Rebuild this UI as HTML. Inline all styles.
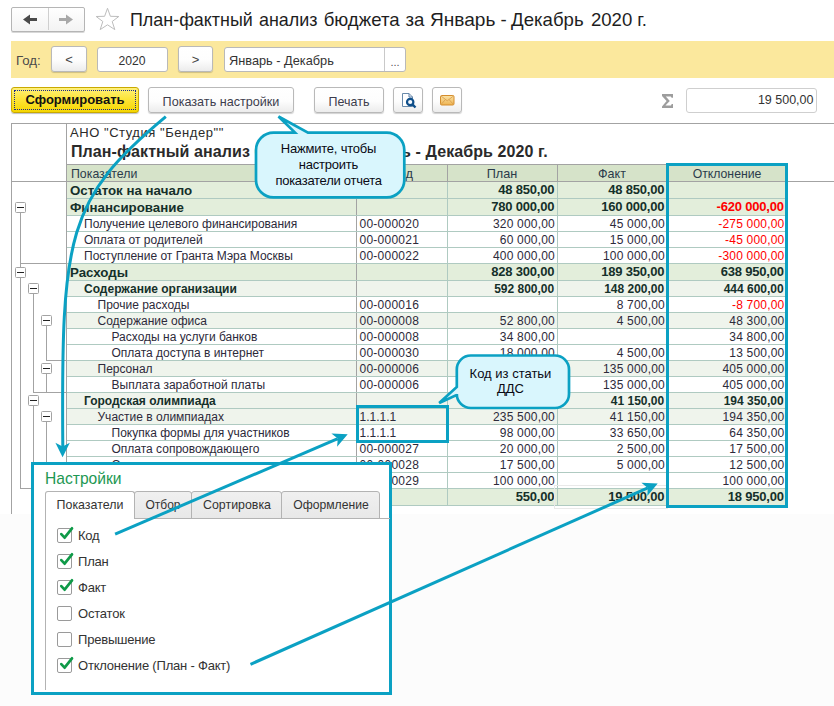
<!DOCTYPE html>
<html><head><meta charset="utf-8"><style>
html,body{margin:0;padding:0;}
body{width:834px;height:706px;overflow:hidden;position:relative;background:#fff;font-family:"Liberation Sans",sans-serif;}
.a{position:absolute;}
.t{position:absolute;white-space:nowrap;}
</style></head><body>
<div class="a" style="left:11px;top:7px;width:74px;height:25px;border:1px solid #b5b5b5;border-radius:2px;background:linear-gradient(#ffffff,#f3f3f3);box-sizing:border-box;box-shadow:0 1px 0 #d8d8d8;"></div><div class="a" style="left:48px;top:8px;width:1px;height:22px;background:#cfcfcf;"></div><svg class="a" style="left:0;top:0" width="120" height="40"><path d="M23,19.5 L30,14.5 L30,18 L37,18 L37,21 L30,21 L30,24.5 Z" fill="#4a4a4a"/><path d="M73,19.5 L66,14.5 L66,18 L59,18 L59,21 L66,21 L66,24.5 Z" fill="#a8a8a8"/><path d="M107.5,8.3 L110.4,16.3 L118.8,16.5 L112.2,21.5 L114.8,29.6 L107.5,24.8 L100.2,29.6 L102.8,21.5 L96.2,16.5 L104.6,16.3 Z" fill="none" stroke="#bdbdbd" stroke-width="1"/></svg><div class="t" style="top:8.86px;font-size:18.6px;line-height:21.39px;color:#1e1e1e;left:129.6px;transform:scaleX(0.963);transform-origin:0 0;">План-фактный</div><div class="t" style="top:8.86px;font-size:18.6px;line-height:21.39px;color:#1e1e1e;left:258.59999999999997px;transform:scaleX(0.963);transform-origin:0 0;">анализ</div><div class="t" style="top:8.86px;font-size:18.6px;line-height:21.39px;color:#1e1e1e;left:323.7px;">бюджета</div><div class="t" style="top:8.86px;font-size:18.6px;line-height:21.39px;color:#1e1e1e;left:405.5px;">за</div><div class="t" style="top:8.86px;font-size:18.6px;line-height:21.39px;color:#1e1e1e;left:430.0px;transform:scaleX(1.026);transform-origin:0 0;">Январь</div><div class="t" style="top:8.86px;font-size:18.6px;line-height:21.39px;color:#1e1e1e;left:500.5px;">-</div><div class="t" style="top:8.86px;font-size:18.6px;line-height:21.39px;color:#1e1e1e;left:511.09999999999997px;">Декабрь</div><div class="t" style="top:8.86px;font-size:18.6px;line-height:21.39px;color:#1e1e1e;left:590.9000000000001px;">2020</div><div class="t" style="top:8.86px;font-size:18.6px;line-height:21.39px;color:#1e1e1e;left:637.3000000000001px;">г.</div><div class="a" style="left:11px;top:41px;width:823px;height:37px;background:#fbe89d;"></div><div class="t" style="top:52.56px;font-size:13.5px;line-height:15.52px;color:#4a4a4a;left:16px;transform:scaleX(0.98);transform-origin:0 0;">Год:</div><div class="a" style="left:51px;top:46px;width:36px;height:26px;border:1px solid #b9b9b9;border-radius:3px;background:linear-gradient(#ffffff 0%,#fdfdfd 55%,#ececec 100%);box-sizing:border-box;box-shadow:0 1px 1px rgba(0,0,0,0.18);"></div><div class="t" style="top:53.02px;font-size:13px;line-height:14.95px;color:#444;left:-81px;width:300px;text-align:center;">&lt;</div><div class="a" style="left:97px;top:47px;width:71px;height:25px;border:1px solid #b9b9b9;border-radius:3px;background:#fff;box-sizing:border-box;"></div><div class="t" style="top:52.56px;font-size:13.5px;line-height:15.52px;color:#333;left:-17.80000000000001px;width:300px;text-align:center;transform:scaleX(0.9);transform-origin:50% 0;">2020</div><div class="a" style="left:178px;top:46px;width:35px;height:26px;border:1px solid #b9b9b9;border-radius:3px;background:linear-gradient(#ffffff 0%,#fdfdfd 55%,#ececec 100%);box-sizing:border-box;box-shadow:0 1px 1px rgba(0,0,0,0.18);"></div><div class="t" style="top:53.02px;font-size:13px;line-height:14.95px;color:#444;left:45.5px;width:300px;text-align:center;">&gt;</div><div class="a" style="left:224px;top:47px;width:182px;height:25px;border:1px solid #b9b9b9;border-radius:3px;background:#fff;box-sizing:border-box;"></div><div class="a" style="left:384px;top:48px;width:1px;height:23px;background:#c9c9c9;"></div><div class="t" style="top:52.56px;font-size:13.5px;line-height:15.52px;color:#333;left:228.5px;transform:scaleX(0.945);transform-origin:0 0;">Январь - Декабрь</div><div class="t" style="top:55.86px;font-size:11px;line-height:12.65px;color:#555;left:245px;width:300px;text-align:center;">...</div><div class="a" style="left:11px;top:87px;width:128px;height:26px;border:1px solid #c9a900;border-radius:3px;background:linear-gradient(#fff07a 0%,#fde53a 45%,#f5d600 100%);box-sizing:border-box;box-shadow:0 1px 1px rgba(0,0,0,0.25);"></div><div class="a" style="left:14px;top:90px;width:122px;height:20px;border:1px dotted #1b2a8a;box-sizing:border-box;"></div><div class="t" style="top:93.22px;font-size:13px;line-height:14.95px;color:#111;font-weight:bold;left:-75px;width:300px;text-align:center;">Сформировать</div><div class="a" style="left:148px;top:87px;width:146px;height:26px;border:1px solid #b9b9b9;border-radius:3px;background:linear-gradient(#ffffff 0%,#fdfdfd 55%,#ececec 100%);box-sizing:border-box;box-shadow:0 1px 1px rgba(0,0,0,0.18);"></div><div class="t" style="top:93.56px;font-size:13.5px;line-height:15.52px;color:#3d3d4d;left:70.80000000000001px;width:300px;text-align:center;transform:scaleX(0.934);transform-origin:50% 0;">Показать настройки</div><div class="a" style="left:314px;top:87px;width:70px;height:26px;border:1px solid #b9b9b9;border-radius:3px;background:linear-gradient(#ffffff 0%,#fdfdfd 55%,#ececec 100%);box-sizing:border-box;box-shadow:0 1px 1px rgba(0,0,0,0.18);"></div><div class="t" style="top:93.56px;font-size:13.5px;line-height:15.52px;color:#3d3d4d;left:199px;width:300px;text-align:center;transform:scaleX(0.923);transform-origin:50% 0;">Печать</div><div class="a" style="left:393px;top:87px;width:30px;height:26px;border:1px solid #b9b9b9;border-radius:3px;background:linear-gradient(#ffffff 0%,#fdfdfd 55%,#ececec 100%);box-sizing:border-box;box-shadow:0 1px 1px rgba(0,0,0,0.18);"></div><div class="a" style="left:432px;top:87px;width:30px;height:26px;border:1px solid #b9b9b9;border-radius:3px;background:linear-gradient(#ffffff 0%,#fdfdfd 55%,#ececec 100%);box-sizing:border-box;box-shadow:0 1px 1px rgba(0,0,0,0.18);"></div><svg class="a" style="left:393px;top:87px" width="29" height="26"><path d="M9.5,6.5 L16,6.5 L19.5,10 L19.5,19.5 L9.5,19.5 Z" fill="#fff" stroke="#6a8aaa" stroke-width="1"/><path d="M16,6.5 L16,10 L19.5,10" fill="none" stroke="#5a7fa8" stroke-width="1"/><circle cx="17.2" cy="15" r="3.2" fill="#f4f9ff" stroke="#0f4f8a" stroke-width="2.2"/><path d="M19.4,17.4 L22.5,20.5" stroke="#0f4f8a" stroke-width="2.4"/></svg><svg class="a" style="left:432px;top:87px" width="30" height="26"><defs><linearGradient id="mg" x1="0" y1="0" x2="0" y2="1"><stop offset="0" stop-color="#fbe3a6"/><stop offset="1" stop-color="#eeb453"/></linearGradient></defs><rect x="8.5" y="8.5" width="13.5" height="9.5" rx="1.2" fill="url(#mg)" stroke="#d48c2c" stroke-width="1"/><path d="M9,9 L15.25,13.8 L21.5,9 M9,17.5 L13.5,12.5 M21.5,17.5 L17,12.5" fill="none" stroke="#d9a050" stroke-width="0.9"/></svg><svg class="a" style="left:0;top:0" width="834" height="130"><path d="M662,94 L673,94 L673,97.8 L671.6,97.8 L670.8,96.5 L665.8,96.5 L669.8,101 L665.4,105.5 L671,105.5 L671.7,104.1 L673,104.1 L673,108 L662,108 L662,106.5 L666.6,101 L662,96 Z" fill="#9d9d9d"/></svg><div class="a" style="left:686px;top:88px;width:131px;height:25px;border:1px solid #b9b9b9;border-radius:3px;background:#fff;box-sizing:border-box;border-color:#cfcfcf;"></div><div class="t" style="top:93.48px;font-size:12.5px;line-height:14.37px;color:#333;right:20.5px;text-align:right;">19 500,00</div><div class="a" style="left:0px;top:514px;width:834px;height:192px;background:#fcfcfc;"></div><div class="a" style="left:11px;top:123px;width:823px;height:1px;background:#a3a3a3;"></div><div class="a" style="left:11px;top:123px;width:1px;height:391px;background:#a3a3a3;"></div><div class="a" style="left:66px;top:123px;width:1px;height:383px;background:#a3a3a3;"></div><div class="t" style="top:126.02px;font-size:13px;line-height:14.95px;color:#2a2a2a;letter-spacing:0.55px;left:70px;">АНО "Студия "Бендер""</div><div class="t" style="top:142.56px;font-size:16px;line-height:18.4px;color:#2a2a2a;font-weight:bold;letter-spacing:0.09px;left:71px;">План-фактный анализ бюджета за Январь - Декабрь 2020 г.</div><div class="a" style="left:67px;top:165px;width:718px;height:16px;background:#d6e3c9;"></div><div class="a" style="left:66px;top:164px;width:719px;height:1px;background:#a3a3a3;"></div><div class="a" style="left:11px;top:181px;width:823px;height:1px;background:#a3a3a3;"></div><div class="a" style="left:356px;top:164px;width:1px;height:17px;background:#a3a3a3;"></div><div class="a" style="left:447px;top:164px;width:1px;height:17px;background:#a3a3a3;"></div><div class="a" style="left:557px;top:164px;width:1px;height:17px;background:#a3a3a3;"></div><div class="a" style="left:667px;top:164px;width:1px;height:17px;background:#a3a3a3;"></div><div class="t" style="top:166.36px;font-size:13.5px;line-height:15.52px;color:#2b3b4b;left:70.5px;transform:scaleX(0.913);transform-origin:0 0;">Показатели</div><div class="t" style="top:166.36px;font-size:13.5px;line-height:15.52px;color:#2b3b4b;left:251.5px;width:300px;text-align:center;transform:scaleX(0.95);transform-origin:50% 0;">Код</div><div class="t" style="top:166.36px;font-size:13.5px;line-height:15.52px;color:#2b3b4b;left:352px;width:300px;text-align:center;transform:scaleX(0.94);transform-origin:50% 0;">План</div><div class="t" style="top:166.36px;font-size:13.5px;line-height:15.52px;color:#2b3b4b;left:462px;width:300px;text-align:center;transform:scaleX(0.93);transform-origin:50% 0;">Факт</div><div class="t" style="top:166.36px;font-size:13.5px;line-height:15.52px;color:#2b3b4b;left:577px;width:300px;text-align:center;transform:scaleX(0.907);transform-origin:50% 0;">Отклонение</div><div class="a" style="left:67px;top:182px;width:718px;height:16px;background:#e3eedb;"></div><div class="a" style="left:67px;top:198px;width:718px;height:1px;background:#afcac1;"></div><div class="a" style="left:356px;top:182px;width:1px;height:16px;background:#a3a3a3;"></div><div class="a" style="left:447px;top:182px;width:1px;height:16px;background:#afcac1;"></div><div class="a" style="left:557px;top:182px;width:1px;height:16px;background:#afcac1;"></div><div class="a" style="left:667px;top:182px;width:1px;height:16px;background:#afcac1;"></div><div class="t" style="top:182.85px;font-size:13.3px;line-height:15.29px;color:#15302a;font-weight:bold;left:70px;">Остаток на начало</div><div class="t" style="top:183.12px;font-size:13px;line-height:14.95px;color:#15302a;font-weight:bold;letter-spacing:-0.2px;right:279.79999999999995px;text-align:right;">48 850,00</div><div class="t" style="top:183.12px;font-size:13px;line-height:14.95px;color:#15302a;font-weight:bold;letter-spacing:-0.2px;right:169.79999999999995px;text-align:right;">48 850,00</div><div class="a" style="left:67px;top:199px;width:718px;height:16px;background:#e3eedb;"></div><div class="a" style="left:67px;top:215px;width:718px;height:1px;background:#afcac1;"></div><div class="a" style="left:356px;top:199px;width:1px;height:16px;background:#a3a3a3;"></div><div class="a" style="left:447px;top:199px;width:1px;height:16px;background:#afcac1;"></div><div class="a" style="left:557px;top:199px;width:1px;height:16px;background:#afcac1;"></div><div class="a" style="left:667px;top:199px;width:1px;height:16px;background:#afcac1;"></div><div class="t" style="top:199.85px;font-size:13.3px;line-height:15.29px;color:#15302a;font-weight:bold;left:70px;">Финансирование</div><div class="t" style="top:200.12px;font-size:13px;line-height:14.95px;color:#15302a;font-weight:bold;letter-spacing:-0.2px;right:279.79999999999995px;text-align:right;">780 000,00</div><div class="t" style="top:200.12px;font-size:13px;line-height:14.95px;color:#15302a;font-weight:bold;letter-spacing:-0.2px;right:169.79999999999995px;text-align:right;">160 000,00</div><div class="t" style="top:200.12px;font-size:13px;line-height:14.95px;color:#ff0000;font-weight:bold;letter-spacing:-0.2px;right:50.299999999999955px;text-align:right;">-620 000,00</div><div class="a" style="left:67px;top:216px;width:718px;height:15px;background:#ffffff;"></div><div class="a" style="left:67px;top:231px;width:718px;height:1px;background:#afcac1;"></div><div class="a" style="left:356px;top:216px;width:1px;height:15px;background:#a3a3a3;"></div><div class="a" style="left:447px;top:216px;width:1px;height:15px;background:#afcac1;"></div><div class="a" style="left:557px;top:216px;width:1px;height:15px;background:#afcac1;"></div><div class="a" style="left:667px;top:216px;width:1px;height:15px;background:#afcac1;"></div><div class="t" style="top:218.24px;font-size:12px;line-height:13.8px;color:#2d2a3a;left:84px;">Получение целевого финансирования</div><div class="t" style="top:218.24px;font-size:12px;line-height:13.8px;color:#2d2a3a;letter-spacing:0.25px;left:359.5px;">00-000020</div><div class="t" style="top:218.24px;font-size:12px;line-height:13.8px;color:#2d2a3a;letter-spacing:0.2px;right:279.0px;text-align:right;">320 000,00</div><div class="t" style="top:218.24px;font-size:12px;line-height:13.8px;color:#2d2a3a;letter-spacing:0.2px;right:169.0px;text-align:right;">45 000,00</div><div class="t" style="top:218.24px;font-size:12px;line-height:13.8px;color:#ff0000;letter-spacing:0.2px;right:49.5px;text-align:right;">-275 000,00</div><div class="a" style="left:67px;top:232px;width:718px;height:15px;background:#ffffff;"></div><div class="a" style="left:67px;top:247px;width:718px;height:1px;background:#afcac1;"></div><div class="a" style="left:356px;top:232px;width:1px;height:15px;background:#a3a3a3;"></div><div class="a" style="left:447px;top:232px;width:1px;height:15px;background:#afcac1;"></div><div class="a" style="left:557px;top:232px;width:1px;height:15px;background:#afcac1;"></div><div class="a" style="left:667px;top:232px;width:1px;height:15px;background:#afcac1;"></div><div class="t" style="top:234.24px;font-size:12px;line-height:13.8px;color:#2d2a3a;left:84px;">Оплата от родителей</div><div class="t" style="top:234.24px;font-size:12px;line-height:13.8px;color:#2d2a3a;letter-spacing:0.25px;left:359.5px;">00-000021</div><div class="t" style="top:234.24px;font-size:12px;line-height:13.8px;color:#2d2a3a;letter-spacing:0.2px;right:279.0px;text-align:right;">60 000,00</div><div class="t" style="top:234.24px;font-size:12px;line-height:13.8px;color:#2d2a3a;letter-spacing:0.2px;right:169.0px;text-align:right;">15 000,00</div><div class="t" style="top:234.24px;font-size:12px;line-height:13.8px;color:#ff0000;letter-spacing:0.2px;right:49.5px;text-align:right;">-45 000,00</div><div class="a" style="left:67px;top:248px;width:718px;height:15px;background:#ffffff;"></div><div class="a" style="left:67px;top:263px;width:718px;height:1px;background:#afcac1;"></div><div class="a" style="left:356px;top:248px;width:1px;height:15px;background:#a3a3a3;"></div><div class="a" style="left:447px;top:248px;width:1px;height:15px;background:#afcac1;"></div><div class="a" style="left:557px;top:248px;width:1px;height:15px;background:#afcac1;"></div><div class="a" style="left:667px;top:248px;width:1px;height:15px;background:#afcac1;"></div><div class="t" style="top:250.24px;font-size:12px;line-height:13.8px;color:#2d2a3a;left:84px;">Поступление от Гранта Мэра Москвы</div><div class="t" style="top:250.24px;font-size:12px;line-height:13.8px;color:#2d2a3a;letter-spacing:0.25px;left:359.5px;">00-000022</div><div class="t" style="top:250.24px;font-size:12px;line-height:13.8px;color:#2d2a3a;letter-spacing:0.2px;right:279.0px;text-align:right;">400 000,00</div><div class="t" style="top:250.24px;font-size:12px;line-height:13.8px;color:#2d2a3a;letter-spacing:0.2px;right:169.0px;text-align:right;">100 000,00</div><div class="t" style="top:250.24px;font-size:12px;line-height:13.8px;color:#ff0000;letter-spacing:0.2px;right:49.5px;text-align:right;">-300 000,00</div><div class="a" style="left:67px;top:264px;width:718px;height:16px;background:#e3eedb;"></div><div class="a" style="left:67px;top:280px;width:718px;height:1px;background:#afcac1;"></div><div class="a" style="left:356px;top:264px;width:1px;height:16px;background:#a3a3a3;"></div><div class="a" style="left:447px;top:264px;width:1px;height:16px;background:#afcac1;"></div><div class="a" style="left:557px;top:264px;width:1px;height:16px;background:#afcac1;"></div><div class="a" style="left:667px;top:264px;width:1px;height:16px;background:#afcac1;"></div><div class="t" style="top:264.85px;font-size:13.3px;line-height:15.29px;color:#15302a;font-weight:bold;left:70px;">Расходы</div><div class="t" style="top:265.12px;font-size:13px;line-height:14.95px;color:#15302a;font-weight:bold;letter-spacing:-0.2px;right:279.79999999999995px;text-align:right;">828 300,00</div><div class="t" style="top:265.12px;font-size:13px;line-height:14.95px;color:#15302a;font-weight:bold;letter-spacing:-0.2px;right:169.79999999999995px;text-align:right;">189 350,00</div><div class="t" style="top:265.12px;font-size:13px;line-height:14.95px;color:#15302a;font-weight:bold;letter-spacing:-0.2px;right:50.299999999999955px;text-align:right;">638 950,00</div><div class="a" style="left:67px;top:281px;width:718px;height:15px;background:#eff4ec;"></div><div class="a" style="left:67px;top:296px;width:718px;height:1px;background:#afcac1;"></div><div class="a" style="left:356px;top:281px;width:1px;height:15px;background:#a3a3a3;"></div><div class="a" style="left:447px;top:281px;width:1px;height:15px;background:#afcac1;"></div><div class="a" style="left:557px;top:281px;width:1px;height:15px;background:#afcac1;"></div><div class="a" style="left:667px;top:281px;width:1px;height:15px;background:#afcac1;"></div><div class="t" style="top:282.84px;font-size:12px;line-height:13.8px;color:#15302a;font-weight:bold;left:84px;">Содержание организации</div><div class="t" style="top:282.84px;font-size:12px;line-height:13.8px;color:#15302a;font-weight:bold;right:279.79999999999995px;text-align:right;">592 800,00</div><div class="t" style="top:282.84px;font-size:12px;line-height:13.8px;color:#15302a;font-weight:bold;right:169.79999999999995px;text-align:right;">148 200,00</div><div class="t" style="top:282.84px;font-size:12px;line-height:13.8px;color:#15302a;font-weight:bold;right:50.299999999999955px;text-align:right;">444 600,00</div><div class="a" style="left:67px;top:297px;width:718px;height:15px;background:#ffffff;"></div><div class="a" style="left:67px;top:312px;width:718px;height:1px;background:#afcac1;"></div><div class="a" style="left:356px;top:297px;width:1px;height:15px;background:#a3a3a3;"></div><div class="a" style="left:447px;top:297px;width:1px;height:15px;background:#afcac1;"></div><div class="a" style="left:557px;top:297px;width:1px;height:15px;background:#afcac1;"></div><div class="a" style="left:667px;top:297px;width:1px;height:15px;background:#afcac1;"></div><div class="t" style="top:299.24px;font-size:12px;line-height:13.8px;color:#2d2a3a;left:97.5px;">Прочие расходы</div><div class="t" style="top:299.24px;font-size:12px;line-height:13.8px;color:#2d2a3a;letter-spacing:0.25px;left:359.5px;">00-000016</div><div class="t" style="top:299.24px;font-size:12px;line-height:13.8px;color:#2d2a3a;letter-spacing:0.2px;right:169.0px;text-align:right;">8 700,00</div><div class="t" style="top:299.24px;font-size:12px;line-height:13.8px;color:#ff0000;letter-spacing:0.2px;right:49.5px;text-align:right;">-8 700,00</div><div class="a" style="left:67px;top:313px;width:718px;height:15px;background:#eff4ec;"></div><div class="a" style="left:67px;top:328px;width:718px;height:1px;background:#afcac1;"></div><div class="a" style="left:356px;top:313px;width:1px;height:15px;background:#a3a3a3;"></div><div class="a" style="left:447px;top:313px;width:1px;height:15px;background:#afcac1;"></div><div class="a" style="left:557px;top:313px;width:1px;height:15px;background:#afcac1;"></div><div class="a" style="left:667px;top:313px;width:1px;height:15px;background:#afcac1;"></div><div class="t" style="top:315.24px;font-size:12px;line-height:13.8px;color:#2d2a3a;left:97.5px;">Содержание офиса</div><div class="t" style="top:315.24px;font-size:12px;line-height:13.8px;color:#2d2a3a;letter-spacing:0.25px;left:359.5px;">00-000008</div><div class="t" style="top:315.24px;font-size:12px;line-height:13.8px;color:#2d2a3a;letter-spacing:0.2px;right:279.0px;text-align:right;">52 800,00</div><div class="t" style="top:315.24px;font-size:12px;line-height:13.8px;color:#2d2a3a;letter-spacing:0.2px;right:169.0px;text-align:right;">4 500,00</div><div class="t" style="top:315.24px;font-size:12px;line-height:13.8px;color:#2d2a3a;letter-spacing:0.2px;right:49.5px;text-align:right;">48 300,00</div><div class="a" style="left:67px;top:329px;width:718px;height:15px;background:#ffffff;"></div><div class="a" style="left:67px;top:344px;width:718px;height:1px;background:#afcac1;"></div><div class="a" style="left:356px;top:329px;width:1px;height:15px;background:#a3a3a3;"></div><div class="a" style="left:447px;top:329px;width:1px;height:15px;background:#afcac1;"></div><div class="a" style="left:557px;top:329px;width:1px;height:15px;background:#afcac1;"></div><div class="a" style="left:667px;top:329px;width:1px;height:15px;background:#afcac1;"></div><div class="t" style="top:331.24px;font-size:12px;line-height:13.8px;color:#2d2a3a;left:111.5px;">Расходы на услуги банков</div><div class="t" style="top:331.24px;font-size:12px;line-height:13.8px;color:#2d2a3a;letter-spacing:0.25px;left:359.5px;">00-000008</div><div class="t" style="top:331.24px;font-size:12px;line-height:13.8px;color:#2d2a3a;letter-spacing:0.2px;right:279.0px;text-align:right;">34 800,00</div><div class="t" style="top:331.24px;font-size:12px;line-height:13.8px;color:#2d2a3a;letter-spacing:0.2px;right:49.5px;text-align:right;">34 800,00</div><div class="a" style="left:67px;top:345px;width:718px;height:15px;background:#ffffff;"></div><div class="a" style="left:67px;top:360px;width:718px;height:1px;background:#afcac1;"></div><div class="a" style="left:356px;top:345px;width:1px;height:15px;background:#a3a3a3;"></div><div class="a" style="left:447px;top:345px;width:1px;height:15px;background:#afcac1;"></div><div class="a" style="left:557px;top:345px;width:1px;height:15px;background:#afcac1;"></div><div class="a" style="left:667px;top:345px;width:1px;height:15px;background:#afcac1;"></div><div class="t" style="top:347.24px;font-size:12px;line-height:13.8px;color:#2d2a3a;left:111.5px;">Оплата доступа в интернет</div><div class="t" style="top:347.24px;font-size:12px;line-height:13.8px;color:#2d2a3a;letter-spacing:0.25px;left:359.5px;">00-000030</div><div class="t" style="top:347.24px;font-size:12px;line-height:13.8px;color:#2d2a3a;letter-spacing:0.2px;right:279.0px;text-align:right;">18 000,00</div><div class="t" style="top:347.24px;font-size:12px;line-height:13.8px;color:#2d2a3a;letter-spacing:0.2px;right:169.0px;text-align:right;">4 500,00</div><div class="t" style="top:347.24px;font-size:12px;line-height:13.8px;color:#2d2a3a;letter-spacing:0.2px;right:49.5px;text-align:right;">13 500,00</div><div class="a" style="left:67px;top:361px;width:718px;height:15px;background:#eff4ec;"></div><div class="a" style="left:67px;top:376px;width:718px;height:1px;background:#afcac1;"></div><div class="a" style="left:356px;top:361px;width:1px;height:15px;background:#a3a3a3;"></div><div class="a" style="left:447px;top:361px;width:1px;height:15px;background:#afcac1;"></div><div class="a" style="left:557px;top:361px;width:1px;height:15px;background:#afcac1;"></div><div class="a" style="left:667px;top:361px;width:1px;height:15px;background:#afcac1;"></div><div class="t" style="top:363.24px;font-size:12px;line-height:13.8px;color:#2d2a3a;left:97.5px;">Персонал</div><div class="t" style="top:363.24px;font-size:12px;line-height:13.8px;color:#2d2a3a;letter-spacing:0.25px;left:359.5px;">00-000006</div><div class="t" style="top:363.24px;font-size:12px;line-height:13.8px;color:#2d2a3a;letter-spacing:0.2px;right:279.0px;text-align:right;">540 000,00</div><div class="t" style="top:363.24px;font-size:12px;line-height:13.8px;color:#2d2a3a;letter-spacing:0.2px;right:169.0px;text-align:right;">135 000,00</div><div class="t" style="top:363.24px;font-size:12px;line-height:13.8px;color:#2d2a3a;letter-spacing:0.2px;right:49.5px;text-align:right;">405 000,00</div><div class="a" style="left:67px;top:377px;width:718px;height:15px;background:#ffffff;"></div><div class="a" style="left:67px;top:392px;width:718px;height:1px;background:#afcac1;"></div><div class="a" style="left:356px;top:377px;width:1px;height:15px;background:#a3a3a3;"></div><div class="a" style="left:447px;top:377px;width:1px;height:15px;background:#afcac1;"></div><div class="a" style="left:557px;top:377px;width:1px;height:15px;background:#afcac1;"></div><div class="a" style="left:667px;top:377px;width:1px;height:15px;background:#afcac1;"></div><div class="t" style="top:379.24px;font-size:12px;line-height:13.8px;color:#2d2a3a;left:111.5px;">Выплата заработной платы</div><div class="t" style="top:379.24px;font-size:12px;line-height:13.8px;color:#2d2a3a;letter-spacing:0.25px;left:359.5px;">00-000006</div><div class="t" style="top:379.24px;font-size:12px;line-height:13.8px;color:#2d2a3a;letter-spacing:0.2px;right:279.0px;text-align:right;">540 000,00</div><div class="t" style="top:379.24px;font-size:12px;line-height:13.8px;color:#2d2a3a;letter-spacing:0.2px;right:169.0px;text-align:right;">135 000,00</div><div class="t" style="top:379.24px;font-size:12px;line-height:13.8px;color:#2d2a3a;letter-spacing:0.2px;right:49.5px;text-align:right;">405 000,00</div><div class="a" style="left:67px;top:393px;width:718px;height:15px;background:#eff4ec;"></div><div class="a" style="left:67px;top:408px;width:718px;height:1px;background:#afcac1;"></div><div class="a" style="left:356px;top:393px;width:1px;height:15px;background:#a3a3a3;"></div><div class="a" style="left:447px;top:393px;width:1px;height:15px;background:#afcac1;"></div><div class="a" style="left:557px;top:393px;width:1px;height:15px;background:#afcac1;"></div><div class="a" style="left:667px;top:393px;width:1px;height:15px;background:#afcac1;"></div><div class="t" style="top:394.84px;font-size:12px;line-height:13.8px;color:#15302a;font-weight:bold;left:84px;">Городская олимпиада</div><div class="t" style="top:394.84px;font-size:12px;line-height:13.8px;color:#15302a;font-weight:bold;right:279.79999999999995px;text-align:right;">235 500,00</div><div class="t" style="top:394.84px;font-size:12px;line-height:13.8px;color:#15302a;font-weight:bold;right:169.79999999999995px;text-align:right;">41 150,00</div><div class="t" style="top:394.84px;font-size:12px;line-height:13.8px;color:#15302a;font-weight:bold;right:50.299999999999955px;text-align:right;">194 350,00</div><div class="a" style="left:67px;top:409px;width:718px;height:15px;background:#eff4ec;"></div><div class="a" style="left:67px;top:424px;width:718px;height:1px;background:#afcac1;"></div><div class="a" style="left:356px;top:409px;width:1px;height:15px;background:#a3a3a3;"></div><div class="a" style="left:447px;top:409px;width:1px;height:15px;background:#afcac1;"></div><div class="a" style="left:557px;top:409px;width:1px;height:15px;background:#afcac1;"></div><div class="a" style="left:667px;top:409px;width:1px;height:15px;background:#afcac1;"></div><div class="t" style="top:411.24px;font-size:12px;line-height:13.8px;color:#2d2a3a;left:97.5px;">Участие в олимпиадах</div><div class="t" style="top:411.24px;font-size:12px;line-height:13.8px;color:#2d2a3a;letter-spacing:0px;left:359.5px;">1.1.1.1</div><div class="t" style="top:411.24px;font-size:12px;line-height:13.8px;color:#2d2a3a;letter-spacing:0.2px;right:279.0px;text-align:right;">235 500,00</div><div class="t" style="top:411.24px;font-size:12px;line-height:13.8px;color:#2d2a3a;letter-spacing:0.2px;right:169.0px;text-align:right;">41 150,00</div><div class="t" style="top:411.24px;font-size:12px;line-height:13.8px;color:#2d2a3a;letter-spacing:0.2px;right:49.5px;text-align:right;">194 350,00</div><div class="a" style="left:67px;top:425px;width:718px;height:15px;background:#ffffff;"></div><div class="a" style="left:67px;top:440px;width:718px;height:1px;background:#afcac1;"></div><div class="a" style="left:356px;top:425px;width:1px;height:15px;background:#a3a3a3;"></div><div class="a" style="left:447px;top:425px;width:1px;height:15px;background:#afcac1;"></div><div class="a" style="left:557px;top:425px;width:1px;height:15px;background:#afcac1;"></div><div class="a" style="left:667px;top:425px;width:1px;height:15px;background:#afcac1;"></div><div class="t" style="top:427.24px;font-size:12px;line-height:13.8px;color:#2d2a3a;left:111.5px;">Покупка формы для участников</div><div class="t" style="top:427.24px;font-size:12px;line-height:13.8px;color:#2d2a3a;letter-spacing:0px;left:359.5px;">1.1.1.1</div><div class="t" style="top:427.24px;font-size:12px;line-height:13.8px;color:#2d2a3a;letter-spacing:0.2px;right:279.0px;text-align:right;">98 000,00</div><div class="t" style="top:427.24px;font-size:12px;line-height:13.8px;color:#2d2a3a;letter-spacing:0.2px;right:169.0px;text-align:right;">33 650,00</div><div class="t" style="top:427.24px;font-size:12px;line-height:13.8px;color:#2d2a3a;letter-spacing:0.2px;right:49.5px;text-align:right;">64 350,00</div><div class="a" style="left:67px;top:441px;width:718px;height:15px;background:#ffffff;"></div><div class="a" style="left:67px;top:456px;width:718px;height:1px;background:#afcac1;"></div><div class="a" style="left:356px;top:441px;width:1px;height:15px;background:#a3a3a3;"></div><div class="a" style="left:447px;top:441px;width:1px;height:15px;background:#afcac1;"></div><div class="a" style="left:557px;top:441px;width:1px;height:15px;background:#afcac1;"></div><div class="a" style="left:667px;top:441px;width:1px;height:15px;background:#afcac1;"></div><div class="t" style="top:443.24px;font-size:12px;line-height:13.8px;color:#2d2a3a;left:111.5px;">Оплата сопровождающего</div><div class="t" style="top:443.24px;font-size:12px;line-height:13.8px;color:#2d2a3a;letter-spacing:0.25px;left:359.5px;">00-000027</div><div class="t" style="top:443.24px;font-size:12px;line-height:13.8px;color:#2d2a3a;letter-spacing:0.2px;right:279.0px;text-align:right;">20 000,00</div><div class="t" style="top:443.24px;font-size:12px;line-height:13.8px;color:#2d2a3a;letter-spacing:0.2px;right:169.0px;text-align:right;">2 500,00</div><div class="t" style="top:443.24px;font-size:12px;line-height:13.8px;color:#2d2a3a;letter-spacing:0.2px;right:49.5px;text-align:right;">17 500,00</div><div class="a" style="left:67px;top:457px;width:718px;height:15px;background:#ffffff;"></div><div class="a" style="left:67px;top:472px;width:718px;height:1px;background:#afcac1;"></div><div class="a" style="left:356px;top:457px;width:1px;height:15px;background:#a3a3a3;"></div><div class="a" style="left:447px;top:457px;width:1px;height:15px;background:#afcac1;"></div><div class="a" style="left:557px;top:457px;width:1px;height:15px;background:#afcac1;"></div><div class="a" style="left:667px;top:457px;width:1px;height:15px;background:#afcac1;"></div><div class="t" style="top:459.24px;font-size:12px;line-height:13.8px;color:#2d2a3a;left:111.5px;">Оплата участия</div><div class="t" style="top:459.24px;font-size:12px;line-height:13.8px;color:#2d2a3a;letter-spacing:0.25px;left:359.5px;">00-000028</div><div class="t" style="top:459.24px;font-size:12px;line-height:13.8px;color:#2d2a3a;letter-spacing:0.2px;right:279.0px;text-align:right;">17 500,00</div><div class="t" style="top:459.24px;font-size:12px;line-height:13.8px;color:#2d2a3a;letter-spacing:0.2px;right:169.0px;text-align:right;">5 000,00</div><div class="t" style="top:459.24px;font-size:12px;line-height:13.8px;color:#2d2a3a;letter-spacing:0.2px;right:49.5px;text-align:right;">12 500,00</div><div class="a" style="left:67px;top:473px;width:718px;height:15px;background:#ffffff;"></div><div class="a" style="left:67px;top:488px;width:718px;height:1px;background:#afcac1;"></div><div class="a" style="left:356px;top:473px;width:1px;height:15px;background:#a3a3a3;"></div><div class="a" style="left:447px;top:473px;width:1px;height:15px;background:#afcac1;"></div><div class="a" style="left:557px;top:473px;width:1px;height:15px;background:#afcac1;"></div><div class="a" style="left:667px;top:473px;width:1px;height:15px;background:#afcac1;"></div><div class="t" style="top:475.24px;font-size:12px;line-height:13.8px;color:#2d2a3a;left:111.5px;">Прочие</div><div class="t" style="top:475.24px;font-size:12px;line-height:13.8px;color:#2d2a3a;letter-spacing:0.25px;left:359.5px;">00-000029</div><div class="t" style="top:475.24px;font-size:12px;line-height:13.8px;color:#2d2a3a;letter-spacing:0.2px;right:279.0px;text-align:right;">100 000,00</div><div class="t" style="top:475.24px;font-size:12px;line-height:13.8px;color:#2d2a3a;letter-spacing:0.2px;right:49.5px;text-align:right;">100 000,00</div><div class="a" style="left:67px;top:489px;width:718px;height:16px;background:#e3eedb;"></div><div class="a" style="left:67px;top:505px;width:718px;height:1px;background:#afcac1;"></div><div class="a" style="left:356px;top:489px;width:1px;height:16px;background:#a3a3a3;"></div><div class="a" style="left:447px;top:489px;width:1px;height:16px;background:#afcac1;"></div><div class="a" style="left:557px;top:489px;width:1px;height:16px;background:#afcac1;"></div><div class="a" style="left:667px;top:489px;width:1px;height:16px;background:#afcac1;"></div><div class="t" style="top:490.12px;font-size:13px;line-height:14.95px;color:#15302a;font-weight:bold;letter-spacing:-0.2px;right:279.79999999999995px;text-align:right;">550,00</div><div class="t" style="top:490.12px;font-size:13px;line-height:14.95px;color:#15302a;font-weight:bold;letter-spacing:-0.2px;right:169.79999999999995px;text-align:right;">19 500,00</div><div class="t" style="top:490.12px;font-size:13px;line-height:14.95px;color:#15302a;font-weight:bold;letter-spacing:-0.2px;right:50.299999999999955px;text-align:right;">18 950,00</div><div class="a" style="left:554px;top:485px;width:114px;height:24px;border:1px solid #e9e9e9;box-sizing:border-box;"></div><div class="a" style="left:20px;top:212px;width:1px;height:277px;background:#a3a3a3;"></div><div class="a" style="left:20px;top:263px;width:46px;height:1px;background:#a3a3a3;"></div><div class="a" style="left:15px;top:202px;width:11px;height:11px;border:1px solid #a3a3a3;border-radius:1.5px;background:#fff;box-sizing:border-box;"></div><div class="a" style="left:17px;top:207px;width:7px;height:1px;background:#222;"></div><div class="a" style="left:15px;top:267px;width:11px;height:11px;border:1px solid #a3a3a3;border-radius:1.5px;background:#fff;box-sizing:border-box;"></div><div class="a" style="left:17px;top:272px;width:7px;height:1px;background:#222;"></div><div class="a" style="left:20px;top:488px;width:46px;height:1px;background:#a3a3a3;"></div><div class="a" style="left:33px;top:293px;width:1px;height:99px;background:#a3a3a3;"></div><div class="a" style="left:33px;top:392px;width:33px;height:1px;background:#a3a3a3;"></div><div class="a" style="left:28px;top:283px;width:11px;height:11px;border:1px solid #a3a3a3;border-radius:1.5px;background:#fff;box-sizing:border-box;"></div><div class="a" style="left:30px;top:288px;width:7px;height:1px;background:#222;"></div><div class="a" style="left:33px;top:405px;width:1px;height:65px;background:#a3a3a3;"></div><div class="a" style="left:28px;top:395px;width:11px;height:11px;border:1px solid #a3a3a3;border-radius:1.5px;background:#fff;box-sizing:border-box;"></div><div class="a" style="left:30px;top:400px;width:7px;height:1px;background:#222;"></div><div class="a" style="left:46px;top:325px;width:1px;height:35px;background:#a3a3a3;"></div><div class="a" style="left:46px;top:360px;width:20px;height:1px;background:#a3a3a3;"></div><div class="a" style="left:41px;top:315px;width:11px;height:11px;border:1px solid #a3a3a3;border-radius:1.5px;background:#fff;box-sizing:border-box;"></div><div class="a" style="left:43px;top:320px;width:7px;height:1px;background:#222;"></div><div class="a" style="left:46px;top:373px;width:1px;height:19px;background:#a3a3a3;"></div><div class="a" style="left:41px;top:363px;width:11px;height:11px;border:1px solid #a3a3a3;border-radius:1.5px;background:#fff;box-sizing:border-box;"></div><div class="a" style="left:43px;top:368px;width:7px;height:1px;background:#222;"></div><div class="a" style="left:46px;top:421px;width:1px;height:49px;background:#a3a3a3;"></div><div class="a" style="left:41px;top:411px;width:11px;height:11px;border:1px solid #a3a3a3;border-radius:1.5px;background:#fff;box-sizing:border-box;"></div><div class="a" style="left:43px;top:416px;width:7px;height:1px;background:#222;"></div><div class="a" style="left:666px;top:163px;width:122px;height:345px;border:3px solid #0ba1c3;box-sizing:border-box;"></div><div class="a" style="left:356px;top:405px;width:93px;height:38px;border:3px solid #0ba1c3;box-sizing:border-box;"></div><div class="a" style="left:31px;top:462px;width:361px;height:233px;border:3px solid #0ba1c3;box-sizing:border-box;background:#fff;"></div><div class="t" style="top:468.90px;font-size:16.6px;line-height:19.09px;color:#1d9852;left:45.3px;transform:scaleX(0.94);transform-origin:0 0;">Настройки</div><div class="a" style="left:134px;top:518px;width:256px;height:1px;background:#b3b3b3;"></div><div class="a" style="left:45px;top:518px;width:1px;height:172px;background:#b3b3b3;"></div><div class="a" style="left:134px;top:491px;width:58px;height:28px;border:1px solid #b3b3b3;border-radius:3px 3px 0 0;background:linear-gradient(#f0f0f0,#e8e8e8);box-sizing:border-box;"></div><div class="t" style="top:496.76px;font-size:13.5px;line-height:15.52px;color:#333;left:13.0px;width:300px;text-align:center;transform:scaleX(0.89);transform-origin:50% 0;">Отбор</div><div class="a" style="left:191px;top:491px;width:91px;height:28px;border:1px solid #b3b3b3;border-radius:3px 3px 0 0;background:linear-gradient(#f0f0f0,#e8e8e8);box-sizing:border-box;"></div><div class="t" style="top:496.76px;font-size:13.5px;line-height:15.52px;color:#333;left:86.5px;width:300px;text-align:center;transform:scaleX(0.917);transform-origin:50% 0;">Сортировка</div><div class="a" style="left:281px;top:491px;width:99px;height:28px;border:1px solid #b3b3b3;border-radius:3px 3px 0 0;background:linear-gradient(#f0f0f0,#e8e8e8);box-sizing:border-box;"></div><div class="t" style="top:496.76px;font-size:13.5px;line-height:15.52px;color:#333;left:180.5px;width:300px;text-align:center;transform:scaleX(0.9);transform-origin:50% 0;">Оформление</div><div class="a" style="left:45px;top:491px;width:90px;height:28px;border:1px solid #b3b3b3;border-bottom:none;border-radius:3px 3px 0 0;background:#fff;box-sizing:border-box;"></div><div class="t" style="top:496.76px;font-size:13.5px;line-height:15.52px;color:#333;left:-60.0px;width:300px;text-align:center;transform:scaleX(0.92);transform-origin:50% 0;">Показатели</div><div class="a" style="left:57px;top:528px;width:15px;height:15px;border:1px solid #9a9a9a;border-radius:2px;background:#fff;box-sizing:border-box;"></div><div class="t" style="top:528.62px;font-size:13px;line-height:14.95px;color:#333;letter-spacing:-0.2px;left:78px;">Код</div><div class="a" style="left:57px;top:554px;width:15px;height:15px;border:1px solid #9a9a9a;border-radius:2px;background:#fff;box-sizing:border-box;"></div><div class="t" style="top:554.62px;font-size:13px;line-height:14.95px;color:#333;letter-spacing:-0.2px;left:78px;">План</div><div class="a" style="left:57px;top:580px;width:15px;height:15px;border:1px solid #9a9a9a;border-radius:2px;background:#fff;box-sizing:border-box;"></div><div class="t" style="top:580.62px;font-size:13px;line-height:14.95px;color:#333;letter-spacing:-0.2px;left:78px;">Факт</div><div class="a" style="left:57px;top:606px;width:15px;height:15px;border:1px solid #9a9a9a;border-radius:2px;background:#fff;box-sizing:border-box;"></div><div class="t" style="top:606.62px;font-size:13px;line-height:14.95px;color:#333;letter-spacing:-0.2px;left:78px;">Остаток</div><div class="a" style="left:57px;top:632px;width:15px;height:15px;border:1px solid #9a9a9a;border-radius:2px;background:#fff;box-sizing:border-box;"></div><div class="t" style="top:632.62px;font-size:13px;line-height:14.95px;color:#333;letter-spacing:-0.2px;left:78px;">Превышение</div><div class="a" style="left:57px;top:658px;width:15px;height:15px;border:1px solid #9a9a9a;border-radius:2px;background:#fff;box-sizing:border-box;"></div><div class="t" style="top:658.62px;font-size:13px;line-height:14.95px;color:#333;letter-spacing:-0.2px;left:78px;">Отклонение (План - Факт)</div><svg class="a" style="left:0;top:0" width="834" height="706"><path d="M61.3,534.1 L64.6,537.7 L72,528.3" fill="none" stroke="#0f9a48" stroke-width="2.7" stroke-linejoin="round" stroke-linecap="round"/><path d="M61.3,560.1 L64.6,563.7 L72,554.3" fill="none" stroke="#0f9a48" stroke-width="2.7" stroke-linejoin="round" stroke-linecap="round"/><path d="M61.3,586.1 L64.6,589.7 L72,580.3" fill="none" stroke="#0f9a48" stroke-width="2.7" stroke-linejoin="round" stroke-linecap="round"/><path d="M61.3,664.1 L64.6,667.7 L72,658.3" fill="none" stroke="#0f9a48" stroke-width="2.7" stroke-linejoin="round" stroke-linecap="round"/></svg><svg class="a" style="left:0;top:0" width="834" height="706"><path d="M273.5,132.6 L295,132.6 L278.5,116.5 L308,132.6 L386.8,132.6 A17.5,17.5 0 0 1 404.3,150.1 L404.3,179.9 A17.5,17.5 0 0 1 386.8,197.4 L273.5,197.4 A17.5,17.5 0 0 1 256,179.9 L256,150.1 A17.5,17.5 0 0 1 273.5,132.6 Z" fill="#d9f6fd" stroke="#0ba1c3" stroke-width="2.7" stroke-linejoin="miter"/></svg><div class="t" style="top:141.52px;font-size:13px;line-height:14.95px;color:#0a0a14;letter-spacing:-0.22px;left:178.5px;width:300px;text-align:center;">Нажмите, чтобы</div><div class="t" style="top:157.62px;font-size:13px;line-height:14.95px;color:#0a0a14;letter-spacing:-0.22px;left:178.5px;width:300px;text-align:center;">настроить</div><div class="t" style="top:173.62px;font-size:13px;line-height:14.95px;color:#0a0a14;letter-spacing:-0.26px;left:178.60000000000002px;width:300px;text-align:center;">показатели отчета</div><svg class="a" style="left:0;top:0" width="834" height="706"><path d="M470.8,355.5 L555,355.5 A14,14 0 0 1 569,369.5 L569,394 A14,14 0 0 1 555,408 L470.8,408 A14,14 0 0 1 456.8,394 L456.8,395 L439.2,403.1 L456.8,387 L456.8,369.5 A14,14 0 0 1 470.8,355.5 Z" fill="#d9f6fd" stroke="#0ba1c3" stroke-width="2.7" stroke-linejoin="miter"/></svg><div class="t" style="top:366.72px;font-size:13px;line-height:14.95px;color:#0a0a14;left:360.5px;width:300px;text-align:center;">Код из статьи</div><div class="t" style="top:382.42px;font-size:13px;line-height:14.95px;color:#0a0a14;left:360.5px;width:300px;text-align:center;">ДДС</div><svg class="a" style="left:0;top:0" width="834" height="706"><path d="M165.8,116.7 C67.1,199.2 61.1,233.3 62.8,447.5" fill="none" stroke="#0ba1c3" stroke-width="3"/><path d="M62.6,457.3 L55.4,442.7 L62.6,446.5 L69.8,442.7 Z" fill="#0ba1c3"/><path d="M115.1,534.1 L337.8,438.6" stroke="#0ba1c3" stroke-width="3"/><path d="M347.7,434.3 L337.1,446.7 L337.8,438.6 L331.4,433.4 Z" fill="#0ba1c3"/><path d="M250.5,664.3 L647.8,487.9" stroke="#0ba1c3" stroke-width="3"/><path d="M657.7,483.5 L647.3,496.0 L647.8,487.9 L641.4,482.8 Z" fill="#0ba1c3"/></svg>
</body></html>
